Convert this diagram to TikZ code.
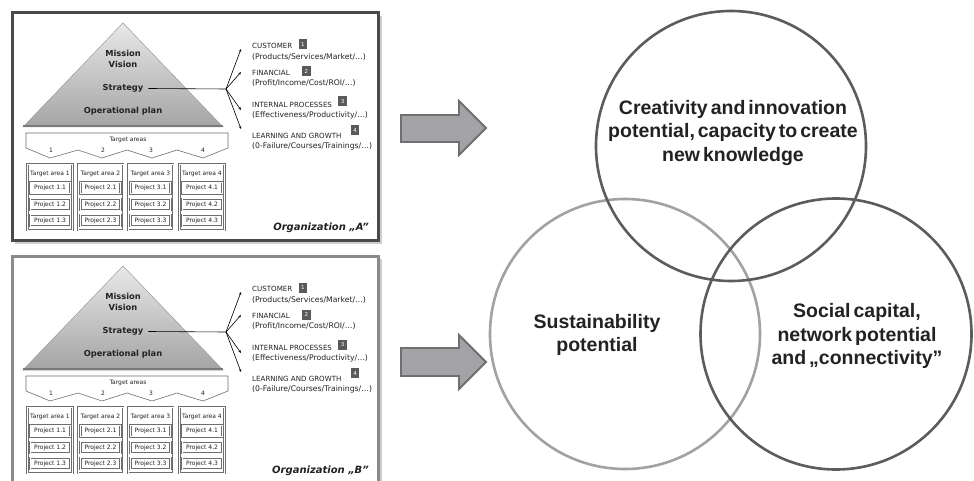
\documentclass[tikz,border=0pt]{standalone}
\usepackage{fontspec}
\setmainfont{DejaVu Sans}
\newfontfamily\circfont[WordSpace=0.55]{Liberation Sans}
\usetikzlibrary{arrows.meta}
\definecolor{frameA}{HTML}{4A4A4A}
\definecolor{frameB}{HTML}{8A8A8A}
\definecolor{shadowgray}{HTML}{CDCDCD}
\definecolor{pyrtop}{HTML}{E8E8E8}
\definecolor{pyrbot}{HTML}{A4A4A4}
\definecolor{pyredge}{HTML}{9A9A9A}
\definecolor{basegray}{HTML}{7A7A7A}
\definecolor{boxgray}{HTML}{5A5A5A}
\definecolor{thingray}{HTML}{6E6E6E}
\definecolor{arrowfill}{HTML}{A3A3A5}
\definecolor{arrowdraw}{HTML}{6F6F71}
\definecolor{circdark}{HTML}{5C5C5C}
\definecolor{circlight}{HTML}{A2A2A2}
\definecolor{txt}{HTML}{222222}
\tikzset{
  pyrtext/.style={font=\bfseries\fontsize{8.3}{9}\selectfont, text=txt, inner sep=0},
  listtext/.style={font=\fontsize{7.7}{9}\selectfont, anchor=west, inner sep=0, text=txt},
  capstext/.style={font=\fontsize{7.1}{9}\selectfont, anchor=west, inner sep=0, text=txt},
  numbox/.style={fill=boxgray, text=white, font=\fontsize{5.5}{6}\selectfont, minimum width=8.5, minimum height=10, inner sep=0, anchor=west},
  colbox/.style={draw=thingray, double=white, double distance=0.9pt, line width=0.6pt, minimum width=45, minimum height=66, inner sep=0},
  projbox/.style={draw=thingray, double=white, double distance=0.9pt, line width=0.6pt, minimum width=40, minimum height=11.5, inner sep=0, font=\fontsize{6}{7}\selectfont, text=txt},
  smalltext/.style={font=\fontsize{6}{7}\selectfont, inner sep=0, text=txt},
  orgtext/.style={font=\bfseries\itshape\fontsize{10}{12}\selectfont, inner sep=0, anchor=east, text=txt},
  fanarrow/.style={line width=0.6pt, -{Stealth[length=3pt,width=2.4pt]}},
  bigarrow/.style={fill=arrowfill, draw=arrowdraw, line width=1.8pt, line join=miter},
  circ/.style={line width=2.6pt},
  circtext/.style={font=\circfont\bfseries\fontsize{19.5}{23.5}\selectfont, align=center, text=txt, inner sep=0}
}
\begin{document}
\begin{tikzpicture}[x=1pt,y=-1pt]
\useasboundingbox (0,0) rectangle (974,481);
\clip (0,0) rectangle (974,481);
\fill[white] (0,0) rectangle (974,481);

\foreach \p/\dy/\fr in {A/0/frameA, B/243/frameB} {
\begin{scope}[shift={(0,\dy)}]
  % frame
  \fill[shadowgray] (15,16) rectangle (382,244);
  \filldraw[fill=white, draw=\fr, line width=3] (12,13) rectangle (378,240);
  % pyramid
  \shadedraw[top color=pyrtop, bottom color=pyrbot, draw=pyredge, line width=0.5]
     (123,23) -- (223,127) -- (23,127) -- cycle;
  \draw[basegray, line width=2.5] (23,126) -- (223,126);
  \node[pyrtext] (mis\p) at (123,53) {Mission};
  \node[pyrtext] (vis\p) at (123,64) {Vision};
  \node[pyrtext] (str\p) at (123,88.5) {Strategy};
  \node[pyrtext] (ope\p) at (123,111) {Operational plan};
  % fan
  \coordinate (fan\p) at (226,89);
  \coordinate (tipa\p) at (241,49);
  \coordinate (tipb\p) at (241,72);
  \coordinate (tipc\p) at (241,110);
  \coordinate (tipd\p) at (241,129);
  \draw[line width=0.6pt] ([xshift=5pt]str\p.east) -- (fan\p);
  \draw[fanarrow] (fan\p) -- (tipa\p);
  \draw[fanarrow] (fan\p) -- (tipb\p);
  \draw[fanarrow] (fan\p) -- (tipc\p);
  \draw[fanarrow] (fan\p) -- (tipd\p);
  % list
  \node[capstext] (cu\p) at (252,46) {CUSTOMER};
  \node[listtext] (cud\p) at (252,57) {(Products/Services/Market/…)};
  \node[capstext] (fi\p) at (252,73) {FINANCIAL};
  \node[listtext] (fid\p) at (252,83.5) {(Profit/Income/Cost/ROI/…)};
  \node[capstext] (in\p) at (252,105) {INTERNAL PROCESSES};
  \node[listtext] (ind\p) at (252,115.5) {(Effectiveness/Productivity/…)};
  \node[capstext] (le\p) at (252,136) {LEARNING AND GROWTH};
  \node[listtext] (led\p) at (252,146.5) {(0-Failure/Courses/Trainings/…)};
  \node[numbox] (na\p) at ([xshift=6pt, yshift=1.5pt]cu\p.east) {1};
  \node[numbox] (nb\p) at ([xshift=12pt, yshift=1.5pt]fi\p.east) {2};
  \node[numbox] (nc\p) at ([xshift=6pt, yshift=3.5pt]in\p.east) {3};
  \node[numbox] (nd\p) at ([xshift=9pt, yshift=6pt]le\p.east) {4};
  % banner
  \draw[thingray, line width=0.6, fill=white] (26,133) -- (228,133) -- (228,148) -- (203,158) -- (177,150)
     -- (152,158) -- (127,150) -- (102,158) -- (78,150) -- (50,158) -- (26,148) -- cycle;
  \node[smalltext] (ta\p) at (128,140) {Target areas};
  \node[smalltext] (t1\p) at (51,150.5) {1};
  \node[smalltext] (t2\p) at (103,150.5) {2};
  \node[smalltext] (t3\p) at (151,150.5) {3};
  \node[smalltext] (t4\p) at (203,150.5) {4};
  % columns
  \foreach \c/\cx in {1/50, 2/100.5, 3/150.5, 4/202} {
    \node[colbox] (col\p\c) at (\cx,197) {};
    \node[smalltext] (hd\p\c) at (\cx,174) {Target area \c};
    \node[projbox] (pa\p\c) at (\cx,188) {Project \c.1};
    \node[projbox] (pb\p\c) at (\cx,204.5) {Project \c.2};
    \node[projbox] (pc\p\c) at (\cx,220.5) {Project \c.3};
  }
  \node[orgtext] (org\p) at (369,228) {Organization „\p”};
\end{scope}
}

% big arrows
\draw[bigarrow] (401,115) -- (459,115) -- (459,101) -- (486,128) -- (459,155) -- (459,142) -- (401,142) -- cycle;
\draw[bigarrow] (401,348) -- (459,348) -- (459,335) -- (486,362) -- (459,389) -- (459,376) -- (401,376) -- cycle;

% circles
\draw[circ, circlight] (625,334) circle[radius=135];
\draw[circ, circdark] (731,146) circle[radius=135];
\draw[circ, circdark] (836,334) circle[radius=135.5];
\node[circtext] (ctop) at (733,133) {Creativity and innovation\\potential, capacity to create\\new knowledge};
\node[circtext] (cleft) at (597,335) {Sustainability\\potential};
\node[circtext] (cright) at (857,336) {Social capital,\\network potential\\and „connectivity”};
\end{tikzpicture}
\end{document}
